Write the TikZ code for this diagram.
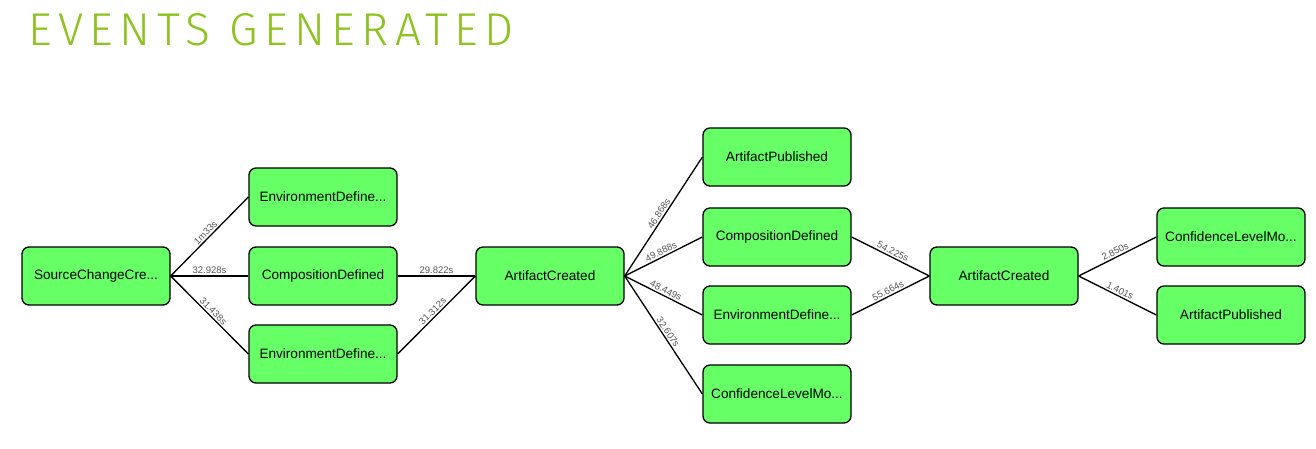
\documentclass[tikz,border=0pt]{standalone}
\usepackage{fontspec}
\setmainfont{Liberation Sans}
\newfontfamily\titlefont{Fira Sans Light}[LetterSpace=14]
\definecolor{evgreen}{HTML}{66FF66}
\definecolor{titlegreen}{HTML}{8DC21F}
\definecolor{lblgray}{HTML}{555555}
\begin{document}
\begin{tikzpicture}[x=1pt,y=-1pt,
  evt/.style={draw, line width=1.3pt, fill=evgreen, rounded corners=7pt,
    minimum width=148pt, minimum height=58pt, inner sep=0pt,
    font=\fontsize{13.6}{16}\selectfont},
  edge/.style={line width=1.3pt},
  lbl/.style={sloped, above, inner sep=1.5pt, text=lblgray,
    font=\fontsize{9.5}{11}\selectfont}]
\useasboundingbox (0,0) rectangle (1316,448);
\node[anchor=west, text=titlegreen, font=\titlefont\fontsize{46}{50}\selectfont, inner sep=0pt] (title) at (28,30) {EVENTS GENERATED};

\node[evt] (src) at (96,276) {SourceChangeCre...};
\node[evt] (env1) at (323,197) {EnvironmentDefine...};
\node[evt] (comp1) at (323,276) {CompositionDefined};
\node[evt] (env2) at (323,354) {EnvironmentDefine...};
\node[evt] (ac1) at (550,276) {ArtifactCreated};
\node[evt] (ap1) at (777,157) {ArtifactPublished};
\node[evt] (comp2) at (777,237) {CompositionDefined};
\node[evt] (env3) at (777,315) {EnvironmentDefine...};
\node[evt] (clm1) at (777,394) {ConfidenceLevelMo...};
\node[evt] (ac2) at (1004,276) {ArtifactCreated};
\node[evt] (clm2) at (1231,237) {ConfidenceLevelMo...};
\node[evt] (ap2) at (1231,315) {ArtifactPublished};

\draw[edge] (src.east) -- node[lbl]{1m33s} (env1.west);
\draw[edge] (src.east) -- node[lbl]{32.928s} (comp1.west);
\draw[edge] (src.east) -- node[lbl]{31.438s} (env2.west);
\draw[edge] (comp1.east) -- node[lbl]{29.822s} (ac1.west);
\draw[edge] (env2.east) -- node[lbl]{31.312s} (ac1.west);
\draw[edge] (ac1.east) -- node[lbl]{46.868s} (ap1.west);
\draw[edge] (ac1.east) -- node[lbl]{49.888s} (comp2.west);
\draw[edge] (ac1.east) -- node[lbl]{48.449s} (env3.west);
\draw[edge] (ac1.east) -- node[lbl]{32.607s} (clm1.west);
\draw[edge] (comp2.east) -- node[lbl]{54.225s} (ac2.west);
\draw[edge] (env3.east) -- node[lbl]{55.664s} (ac2.west);
\draw[edge] (ac2.east) -- node[lbl]{2.850s} (clm2.west);
\draw[edge] (ac2.east) -- node[lbl]{1.401s} (ap2.west);
\end{tikzpicture}
\end{document}
